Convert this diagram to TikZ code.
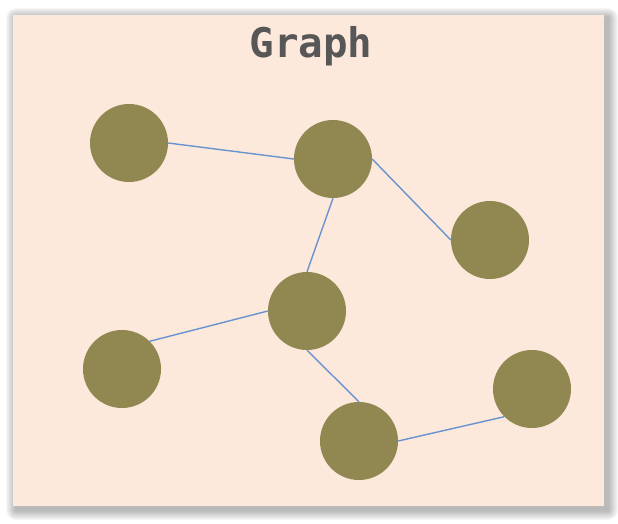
\documentclass[tikz,border=0pt]{standalone}
\usepackage{fontspec}
\newfontfamily\titlefont{DejaVu Sans Mono}
\definecolor{paper}{HTML}{FCE9DC}
\definecolor{vertexfill}{HTML}{918751}
\definecolor{edgeblue}{HTML}{6893CF}
\definecolor{titlegray}{HTML}{575757}
\tikzset{%
  vertex/.style = {shape=circle, fill=vertexfill, minimum size=78bp,%
                   inner sep=0pt},%
  link/.style   = {draw=edgeblue, line width=1.4bp},%
  panel/.style  = {fill=paper},%
  title/.style  = {font=\titlefont\bfseries\fontsize{41}{44}\selectfont,%
                   text=titlegray}%
}
\begin{document}
\begin{tikzpicture}[x=1bp,y=-1bp]
	\useasboundingbox (0,0) rectangle (618,524);
	% soft shadow
	\foreach \s in {1,...,10}
		\fill [black, opacity=0.03, rounded corners=\s bp]
			(16-\s,18-\s) rectangle (608+\s,510+\s);
	\fill [panel] (13,15) rectangle (604,506);
	\node [title] (head) at (311,46) {Graph};
	\node [vertex] (a) at (129,143) {};
	\node [vertex] (b) at (333,159) {};
	\node [vertex] (c) at (490,240) {};
	\node [vertex] (d) at (307,311) {};
	\node [vertex] (e) at (122,369) {};
	\node [vertex] (f) at (359,441) {};
	\node [vertex] (g) at (532,389) {};
	\draw [link] (a.east) -- (b.west);
	\draw [link] (b.east) -- (c.west);
	\draw [link] (b.south) -- (d.north);
	\draw [link] (d.west) -- (e.north east);
	\draw [link] (d.south) -- (f.north);
	\draw [link] (f.east) -- (g.south west);
\end{tikzpicture}
\end{document}
